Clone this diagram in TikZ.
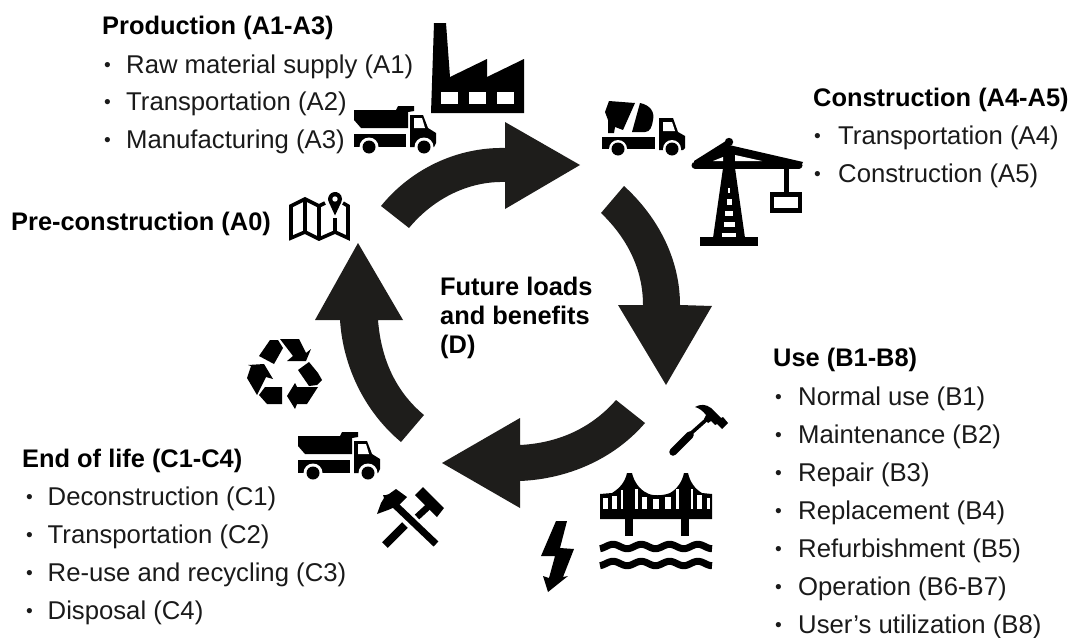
\documentclass[tikz,border=0pt]{standalone}
\usepackage{fontspec}
\setmainfont{Liberation Sans}
\definecolor{ringc}{HTML}{1E1D1B}
\definecolor{txtc}{HTML}{1A1A1A}
\tikzset{
  lab/.style={anchor=base west,inner sep=0pt,text=txtc,font=\fontsize{25.7}{30}\selectfont},
  head/.style={lab,text=black,font=\fontsize{25.4}{30}\selectfont\bfseries},
  ring/.style={fill=ringc,draw=none},
  ico/.style={fill=black,draw=none},
  gap/.style={fill=white,draw=none},
  truckicon/.pic={
    \fill[ico] (0,5)--(42,5)--(44,1)--(60,1)--(60,6)--(54,7)--(54,23)--(7,23)--(0,15)--cycle;
    \fill[ico] (0,29) rectangle (52,42);
    \fill[ico] (56,10)--(69,10)--(74,23)--(82,28)--(82,38)--(80,42)--(56,42)--cycle;
    \fill[gap] (60,13)--(68,13)--(71,23)--(60,23)--cycle;
    \fill[gap] (15,42) circle (9.5);
    \fill[gap] (70,42) circle (9.5);
    \fill[ico] (15,42) circle (6.5);
    \fill[ico] (70,42) circle (6.5);
  }
}
\newcommand{\bul}[5]{\node[lab] (#1) at (#2,#3) {\makebox[#4pt][l]{\hspace{1pt}\raisebox{1.2pt}{\scalebox{0.75}{•}}}#5};}
\begin{document}
\begin{tikzpicture}[x=1pt,y=-1pt]
\useasboundingbox (0,0) rectangle (1070,637);
% ring arrows
\fill[ring] (381,206) .. controls (411,169) and (457,147) .. (505,148) -- (505,122) -- (580,165) -- (505,209) -- (505,182) .. controls (468,181) and (433,199) .. (409,228) -- cycle;
\fill[ring] (624,186) .. controls (658,217) and (680,259) .. (680,305) -- (712,306) -- (666,385) -- (618,305) -- (643,305) .. controls (643,269) and (627,238) .. (601,213) -- cycle;
\fill[ring] (645,423) .. controls (614,459) and (568,479) .. (520,481) -- (520,508) -- (442,463) -- (520,418) -- (520,445) .. controls (558,443) and (591,428.5) .. (616,400) -- cycle;
\fill[ring] (401,442) .. controls (365,412) and (343,367) .. (340,320) -- (315,320) -- (358,243) -- (403,320) -- (378,320) .. controls (381,358) and (395,391) .. (424,415) -- cycle;
% factory
\fill[ico] (431,113)--(434,23)--(446,23)--(450,77)--(487,59)--(487,77)--(524,59)--(524,113)--cycle;
\fill[gap] (441,92) rectangle (458,104);
\fill[gap] (469,92) rectangle (486,104);
\fill[gap] (497,92) rectangle (514,104);
% trucks
\pic at (354,105) {truckicon};
\pic at (298,431) {truckicon};
% map
\draw[line width=3.6pt,line join=miter] (325,203)--(319,206)--(305,199)--(291,206)--(291,238)--(305,232)--(319,239)--(335,232)--(348,238)--(348,206)--(343,203);
\draw[line width=3.6pt] (305,199)--(305,232) (319,206)--(319,239) (335,218)--(335,232);
\fill[ico] (335,215.5) -- (329,202.5) arc[start angle=150,end angle=390,radius=7] -- cycle;
\fill[gap] (335,199) circle (2.7);
% mixer
\fill[ico] (602,137) rectangle (655,149);
\fill[ico] (659,118)--(673,118)--(678,132)--(685,136)--(685,148)--(683,150)--(659,150)--cycle;
\fill[gap] (663,122)--(672,122)--(675,131)--(663,131)--cycle;
\fill[gap] (618,149) circle (9);
\fill[gap] (672,149) circle (9);
\fill[ico] (618,149) circle (6.5);
\fill[ico] (672,149) circle (6.5);
\fill[ico] (609,101)--(635,103)--(623,130)--(615,127)--(614,133)--(608,133)--(608,120)--(605,112)--cycle;
\fill[ico] (640,103) .. controls (650,105) and (655,112) .. (653,120) .. controls (652,127) and (650,132) .. (645,132) -- (632,132) -- cycle;
% crane
\fill[ico] (726,147)--(732,147)--(745,238)--(713,238)--cycle;
\fill[ico] (700,237) rectangle (758,246);
\fill[ico] (729,142) circle (4.2);
\draw[line width=7pt,line cap=round] (695,165)--(799,165);
\fill[ico] (729,139)--(694,161)--(694,168)--(800,168)--(803,162)--(729,145)--cycle;
\draw[line width=5pt] (786,165)--(786,194);
\fill[ico] (770,192) rectangle (802,213);
\fill[gap] (774,197) rectangle (798,208);
\fill[gap] (713,161)--(723,157)--(723,161)--cycle;
\fill[gap] (735,155)--(762,161)--(735,161)--cycle;
\fill[gap] (728,188) rectangle (730,193);
\fill[gap] (726.5,199) rectangle (731.5,205);
\fill[gap] (725,211) rectangle (733,216);
\fill[gap] (723.5,222) rectangle (734.5,227);
\fill[gap] (722,233) rectangle (736,237);
% recycle
\fill[ico] (259,356)--(270,340)--(278,340)--(283,348)--(274,364)--cycle;
\fill[ico] (280,339)--(299,339)--(306,353)--(311,349)--(306,361)--(287,361)--(293,356)--cycle;
\fill[ico] (309,362)--(318,373)--(322,380)--(317,385)--(309,386)--(298,370)--cycle;
\fill[ico] (318,387)--(307,404)--(297,404)--(295,409)--(287,396)--(295,383)--(297,387)--cycle;
\fill[ico] (282,387)--(282,404)--(267,404)--(259,395)--(265,387)--cycle;
\fill[ico] (257,395)--(247,378)--(251,366)--(248,365)--(264,364)--(273,379)--(266,377)--cycle;
% hammer
\fill[ico] (695,407) .. controls (700,404) and (706,404) .. (711,408) -- (721,418) -- (723,417) -- (728,423) -- (722,429) -- (717,424) -- (715,425) -- (711,421) -- (708,423) -- (704,419) -- (706,415) .. controls (703,411) and (699,408) .. (695,407) -- cycle;
\draw[line width=3.6pt] (706,420)--(688,436);
\draw[line width=7.5pt,line cap=round] (690,435)--(673,452);
% bridge
\fill[ico] (600,494)--(612,493) .. controls (620,488) and (625,482) .. (627,473) -- (632,473) .. controls (634,482) and (640,490) .. (647,493) .. controls (651,496) and (663,496) .. (670,493) .. controls (677,489) and (682,482) .. (684,473) -- (688,473) .. controls (690,482) and (695,489) .. (702,493) -- (712,494) -- (712,509) -- (712,519) -- (600,519) -- cycle;
\fill[gap] (603.3,498.3) rectangle (608,509);
\fill[gap] (612,495.7) rectangle (616.7,509);
\fill[gap] (620.7,490) rectangle (623.3,509);
\fill[gap] (635.3,489) rectangle (637.7,509);
\fill[gap] (641.7,496.7) rectangle (647.3,509);
\fill[gap] (653.3,499) rectangle (659,509);
\fill[gap] (664.7,496.7) rectangle (670.7,509);
\fill[gap] (676,489) rectangle (679,509);
\fill[gap] (691,489) rectangle (693.3,509);
\fill[gap] (697.3,495) rectangle (702,509);
\fill[gap] (706.7,498) rectangle (710,509);
\fill[ico] (625,519) rectangle (633,536);
\fill[ico] (681,519) rectangle (689,536);
\draw[line width=7pt] plot[domain=600:712,samples=70] (\x,{546.5-2.2*cos((\x-613)/28.3*360)});
\draw[line width=7pt] plot[domain=600:712,samples=70] (\x,{563.5-2.2*cos((\x-613)/28.3*360)});
% lightning
\fill[ico] (556,521)--(567,521)--(560,548)--(574,549)--(563,577)--(568,576)--(548,592)--(543,576)--(549,578)--(555,556)--(541,556)--cycle;
% crossed tools
\fill[ico] (423,487)--(444,508)--(437,517)--(415,495)--cycle;
\draw[line width=6.5pt] (429,506)--(417,517);
\draw[line width=8pt] (405,525)--(385,545);
\fill[ico] (377,514)--(381,503)--(384,498)--(383,495)--(386,495)--(389,494)--(396,489)--(407,497)--(399,505)--(395,507)--(388,510)--cycle;
\draw[line width=7pt] (394,504)--(436,544);
% texts
\node[head] (prod) at (102,34) {Production (A1-A3)};
\bul{a1}{103}{73}{23}{Raw material supply (A1)}
\bul{a2}{103}{110}{23}{Transportation (A2)}
\bul{a3}{103}{148}{23}{Manufacturing (A3)}
\node[head] (cons) at (813,106) {Construction (A4-A5)};
\bul{a4}{813}{144}{25}{Transportation (A4)}
\bul{a5}{813}{182}{25}{Construction (A5)}
\node[head] (pre) at (11,230) {Pre-construction (A0)};
\node[head] (fut1) at (440,295) {Future loads};
\node[head] (fut2) at (440,324) {and benefits};
\node[head] (fut3) at (440,353) {(D)};
\node[head] (use) at (773,366) {Use (B1-B8)};
\bul{b1}{774}{405}{24}{Normal use (B1)}
\bul{b2}{774}{443}{24}{Maintenance (B2)}
\bul{b3}{774}{481}{24}{Repair (B3)}
\bul{b4}{774}{519}{24}{Replacement (B4)}
\bul{b5}{774}{557}{24}{Refurbishment (B5)}
\bul{b6}{774}{595}{24}{Operation (B6-B7)}
\bul{b7}{774}{633}{24}{User’s utilization (B8)}
\node[head] (eol) at (22,467) {End of life (C1-C4)};
\bul{c1}{25}{505}{22.5}{Deconstruction (C1)}
\bul{c2}{25}{543}{22.5}{Transportation (C2)}
\bul{c3}{25}{581}{22.5}{Re-use and recycling (C3)}
\bul{c4}{25}{619}{22.5}{Disposal (C4)}
\end{tikzpicture}
\end{document}
